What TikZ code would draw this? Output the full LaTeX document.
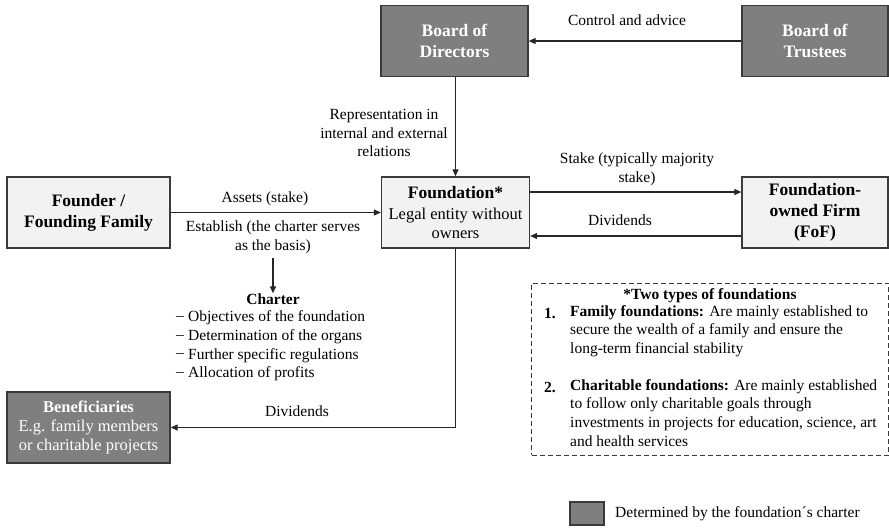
\documentclass[tikz,border=0pt]{standalone}
\usepackage{fontspec}
\setmainfont{Liberation Serif}
\usetikzlibrary{arrows.meta}
\definecolor{darkbox}{HTML}{7F7F7F}
\definecolor{lightbox}{HTML}{F2F2F2}
\definecolor{edge}{HTML}{3A3A3A}
\begin{document}
\begin{tikzpicture}[x=1pt,y=-1pt,
  lbl/.style={font=\fontsize{15.5}{18.7}\selectfont, align=center, inner sep=0pt},
  dkbox/.style={draw=edge, line width=1.3pt, fill=darkbox, text=white, align=center,
    minimum width=147pt, minimum height=71pt, inner sep=0pt,
    font=\fontsize{17.5}{21}\selectfont\bfseries},
  ltbox/.style={draw=edge, line width=1.3pt, fill=lightbox, align=center,
    minimum width=148pt, minimum height=71pt, inner sep=0pt,
    font=\fontsize{17.5}{21}\selectfont\bfseries},
  arr/.style={-{Triangle[length=7pt,width=6pt]}, line width=1.1pt, draw=black!85}
]
\useasboundingbox (0,0) rectangle (889,528);

% boxes
\node[dkbox] (dir) at (454.5,41) {Board of\\Directors};
\node[dkbox, minimum width=146pt] (tru) at (815,41) {Board of\\Trustees};
\node[ltbox, minimum width=163pt] (fou) at (88.5,212.5) {Founder /\\Founding Family};
\node[ltbox] (fdn) at (455.5,212.5) {Foundation*\\[0pt]{\fontsize{16.5}{18.5}\selectfont\mdseries Legal entity without}\\[-2pt]{\fontsize{16.5}{18.5}\selectfont\mdseries owners}};
\node[ltbox, minimum width=146pt] (fof) at (815,212.5) {Foundation-\\owned Firm\\(FoF)};
\node[dkbox, minimum width=163pt, font=\fontsize{16.5}{19}\selectfont] (ben) at (88.5,427.5)
  {\textbf{Beneficiaries}\\E.g. family members\\or charitable projects};

% coordinates
\coordinate (y192) at (0,192);
\coordinate (y236) at (0,236);

% connectors
\draw[arr] (tru.west) -- (dir.east);
\draw[arr] (dir.south -| fdn.north) -- (fdn.north);
\draw[arr] (fou.east) -- (fdn.west);
\draw[arr] (fdn.east |- y192) -- (fof.west |- y192);
\draw[arr] (fof.west |- y236) -- (fdn.east |- y236);
\draw[arr] (fdn.south) |- (ben.east);

% labels
\node[lbl] (lctrl) at (627,20) {Control and advice};
\node[lbl] (lrep) at (384,133) {Representation in\\internal and external\\relations};
\node[lbl] (lassets) at (265,199) {Assets (stake)};
\node[lbl] (lestab) at (273,237) {Establish (the charter serves\\as the basis)};
\node[lbl] (lstake) at (637,169) {Stake (typically majority\\stake)};
\node[lbl] (ldiv1) at (620,220) {Dividends};
\node[lbl] (ldiv2) at (297,411) {Dividends};

% charter
\node[lbl, font=\fontsize{15.5}{18.7}\selectfont\bfseries] (chT) at (273,299) {Charter};
\draw[arr] (273,258) -- (chT.north);
\foreach \i/\t/\yy in {1/Objectives of the foundation/318, 2/Determination of the organs/337, 3/Further specific regulations/355.5, 4/Allocation of profits/374}{
  \node[lbl, anchor=west] (chd\i) at (176,\yy) {–};
  \node[lbl, anchor=west] (cht\i) at (188,\yy) {\t};
}

% dashed info box
\node[draw=edge, dash pattern=on 5pt off 3pt, line width=0.9pt, minimum width=357pt, minimum height=172pt, inner sep=0pt] (types) at (710,369) {};
\node[lbl, font=\fontsize{15.5}{18.7}\selectfont\bfseries] (typT) at (710,296) {*Two types of foundations};
\node[lbl, anchor=west, font=\fontsize{15.5}{18.7}\selectfont\bfseries] (n1) at (544,313) {1.};
\node[lbl, anchor=north west, align=left] (t1) at (570,305) {\textbf{Family foundations:} Are mainly established to\\secure the wealth of a family and ensure the\\long-term financial stability};
\node[lbl, anchor=west, font=\fontsize{15.5}{18.7}\selectfont\bfseries] (n2) at (544,387) {2.};
\node[lbl, anchor=north west, align=left] (t2) at (570,379) {\textbf{Charitable foundations:} Are mainly established\\to follow only charitable goals through\\investments in projects for education, science, art\\and health services};

% legend
\node[draw=edge, line width=1.1pt, fill=darkbox, minimum width=34pt, minimum height=23pt, inner sep=0pt] (leg) at (587,513.5) {};
\node[lbl, anchor=west] (legT) at (615,514) {Determined by the foundation´s charter};
\end{tikzpicture}
\end{document}
